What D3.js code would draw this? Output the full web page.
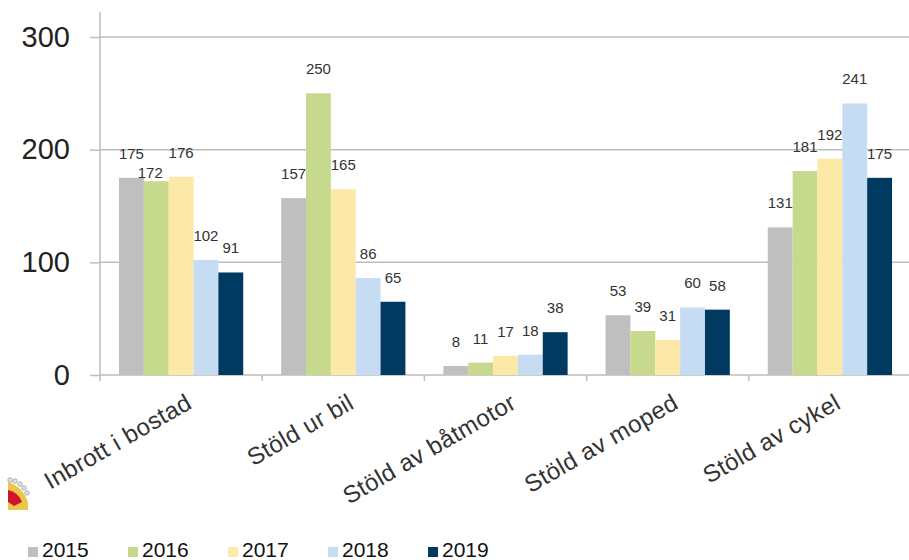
<!DOCTYPE html>
<html>
<head>
<meta charset="utf-8">
<script src="https://cdn.jsdelivr.net/npm/d3@7"></script>
<style>
  body { margin: 0; background: #fff; }
  svg { display: block; font-family: "Liberation Sans", Arial, sans-serif; }
</style>
</head>
<body>
<div id="chart"></div>
<script>
  // data
  const categories = ["Inbrott i bostad", "Stöld ur bil", "Stöld av båtmotor", "Stöld av moped", "Stöld av cykel"];
  const years = ["2015", "2016", "2017", "2018", "2019"];
  const values = {
    "2015": [175, 157, 8, 53, 131],
    "2016": [172, 250, 11, 39, 181],
    "2017": [176, 165, 17, 31, 192],
    "2018": [102, 86, 18, 60, 241],
    "2019": [91, 65, 38, 58, 175]
  };
  const yTicks = [0, 100, 200, 300];
  const colors = ["#bfbfbf", "#c6d98c", "#fde9a7", "#c6dcf2", "#003a60"];

  const width = 909, height = 560;
  const margin = { top: 37, right: 0, bottom: 185, left: 100 };

  const svg = d3.select("#chart").append("svg")
    .attr("width", width)
    .attr("height", height);

  const x0 = d3.scaleBand()
    .domain(categories)
    .range([margin.left, 911])
    .paddingInner(0.234)
    .paddingOuter(0.117);

  const x1 = d3.scaleBand()
    .domain(years)
    .range([0, x0.bandwidth()]);

  const y = d3.scaleLinear()
    .domain([0, 300])
    .range([height - margin.bottom, margin.top]);

  const color = d3.scaleOrdinal().domain(years).range(colors);

  // gridlines + y labels
  const yAxis = svg.append("g")
    .attr("transform", `translate(${margin.left},0)`)
    .call(d3.axisLeft(y).tickValues(yTicks).tickSize(10).tickSizeOuter(0).tickPadding(20));
  yAxis.select(".domain").remove();
  yAxis.selectAll(".tick line").attr("stroke", "#bdbdbd").attr("stroke-width", 1.5);
  yAxis.selectAll(".tick text")
    .attr("fill", "#222")
    .style("font-size", "29px");

  svg.append("g")
    .selectAll("line")
    .data(yTicks)
    .join("line")
    .attr("x1", margin.left)
    .attr("x2", width)
    .attr("y1", d => y(d))
    .attr("y2", d => y(d))
    .attr("stroke", "#bdbdbd")
    .attr("stroke-width", 1.5);

  // vertical axis line
  svg.append("line")
    .attr("x1", margin.left).attr("x2", margin.left)
    .attr("y1", 12).attr("y2", y(0) + 6)
    .attr("stroke", "#bdbdbd")
    .attr("stroke-width", 1.5);

  // category separators on x axis
  const step = x0.step();
  svg.append("g")
    .selectAll("line")
    .data(categories.slice(1))
    .join("line")
    .attr("x1", d => x0(d) - step * 0.117)
    .attr("x2", d => x0(d) - step * 0.117)
    .attr("y1", y(0))
    .attr("y2", y(0) + 6)
    .attr("stroke", "#bdbdbd")
    .attr("stroke-width", 1.5);

  // bars
  const groups = svg.append("g")
    .selectAll("g")
    .data(categories)
    .join("g")
    .attr("transform", d => `translate(${x0(d)},0)`);

  groups.selectAll("rect")
    .data((d, i) => years.map(yr => ({ year: yr, value: values[yr][i] })))
    .join("rect")
    .attr("x", d => x1(d.year))
    .attr("y", d => y(d.value))
    .attr("width", x1.bandwidth())
    .attr("height", d => y(0) - y(d.value))
    .attr("fill", d => color(d.year));

  // value labels, pushed down (and a bit left) when they would run into the previous one
  function labelRows(d, i) {
    const rows = years.map(yr => ({ year: yr, value: values[yr][i] }));
    let prev = null;
    rows.forEach(r => {
      r.ly = y(r.value) - 19;
      r.w = String(r.value).length * 8.3;
      r.cx = x1(r.year) + x1.bandwidth() / 2;
      if (prev && Math.abs(prev.ly - r.ly) < 8 && prev.cx + prev.w / 2 > r.cx - r.w / 2 - 1) {
        r.ly += 16;
        r.cx -= 6;
      }
      prev = r;
    });
    return rows;
  }

  groups.selectAll("text")
    .data(labelRows)
    .join("text")
    .attr("x", d => d.cx)
    .attr("y", d => d.ly)
    .attr("text-anchor", "middle")
    .attr("fill", "#333")
    .style("font-size", "15px")
    .text(d => d.value);

  // rotated category labels
  svg.append("g")
    .selectAll("text")
    .data(categories)
    .join("text")
    .attr("transform", d => `translate(${x0(d) + x0.bandwidth() / 2 + 8},400) rotate(-30)`)
    .attr("text-anchor", "end")
    .attr("dy", "0.35em")
    .attr("fill", "#333")
    .style("font-size", "24px")
    .style("letter-spacing", "0.4px")
    .text(d => d);

  // legend
  const legend = svg.append("g")
    .selectAll("g")
    .data(years)
    .join("g")
    .attr("transform", (d, i) => `translate(${28 + i * 100},557)`);

  legend.append("rect")
    .attr("y", -10)
    .attr("width", 10)
    .attr("height", 10)
    .attr("fill", d => color(d));

  legend.append("text")
    .attr("x", 14)
    .attr("fill", "#111")
    .style("font-size", "21px")
    .text(d => d);

  // bit of the crest logo at the left edge
  const logo = svg.append("g").attr("transform", "translate(0,472)");
  logo.append("path")
    .attr("d", "M8,10 Q22,14 28,30 L28,38 L8,38 Z")
    .attr("fill", "#e8c84a");
  logo.append("path")
    .attr("d", "M8,18 Q18,20 22,30 L14,34 L8,30 Z")
    .attr("fill", "#d0142c");
  logo.selectAll("circle")
    .data([[10, 8], [15, 9], [20, 12], [24, 16], [27, 21]])
    .join("circle")
    .attr("cx", d => d[0])
    .attr("cy", d => d[1])
    .attr("r", 2.2)
    .attr("fill", "#e6e6e6")
    .attr("stroke", "#999")
    .attr("stroke-width", 0.8);
</script>
</body>
</html>
